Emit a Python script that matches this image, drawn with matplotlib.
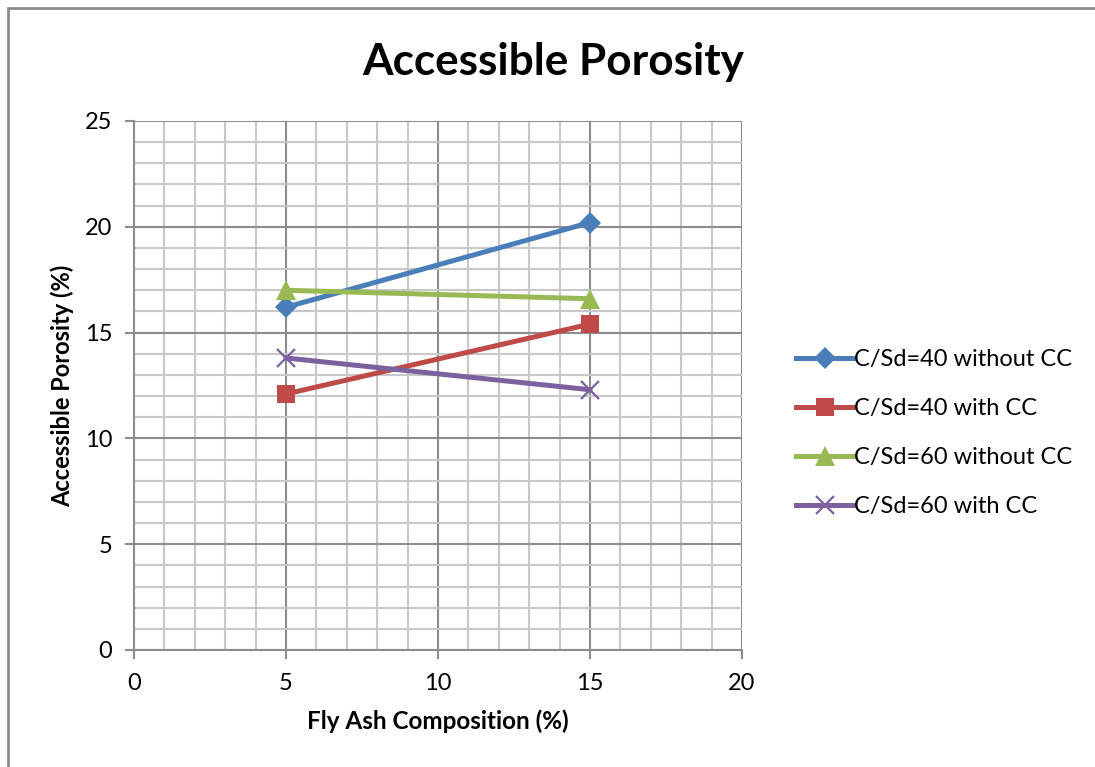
import matplotlib.pyplot as plt
from matplotlib.patches import Rectangle
from matplotlib.ticker import MultipleLocator

plt.rcParams['font.family'] = ['Lato', 'DejaVu Sans']

fly_ash = [5, 15]
cs40_without = [16.2, 20.2]
cs40_with = [12.1, 15.4]
cs60_without = [17.0, 16.6]
cs60_with = [13.8, 12.3]

labels = ["C/Sd=40 without CC", "C/Sd=40 with CC",
          "C/Sd=60 without CC", "C/Sd=60 with CC"]
series = [cs40_without, cs40_with, cs60_without, cs60_with]
styles = [
    {"color": "#4A7EBB", "marker": "D", "ms": 11},
    {"color": "#BE4B48", "marker": "s", "ms": 13},
    {"color": "#98B954", "marker": "^", "ms": 14},
    {"color": "#7D60A0", "marker": "x", "ms": 13},
]

fig = plt.figure(figsize=(10.95, 7.67), dpi=100)
ax = fig.add_axes([134 / 1095, 1 - 650 / 767, 608 / 1095, 529 / 767])

# outer chart frame (right/bottom edges fall outside the canvas)
fig.patches.append(Rectangle((8 / 1095, -0.1), 1.2, 1 - 8 / 767 + 0.1,
                             transform=fig.transFigure, fill=False,
                             edgecolor="#8c8c8c", linewidth=2))

for vals, lab, st in zip(series, labels, styles):
    ax.plot(fly_ash, vals, label=lab, color=st["color"], marker=st["marker"],
            markersize=st["ms"], markeredgewidth=1.6 if st["marker"] == "x" else 0,
            linewidth=3.6, zorder=5, clip_on=False)

ax.set_xlim(0, 20)
ax.set_ylim(0, 25)
ax.xaxis.set_major_locator(MultipleLocator(5))
ax.yaxis.set_major_locator(MultipleLocator(5))
ax.xaxis.set_minor_locator(MultipleLocator(1))
ax.yaxis.set_minor_locator(MultipleLocator(1))
ax.grid(True, which="minor", color="#c8c8c8", linewidth=1.5)
ax.grid(True, which="major", color="#8c8c8c", linewidth=1.5)
ax.set_axisbelow(True)

for s in ["top", "right"]:
    ax.spines[s].set_visible(False)
for s in ["left", "bottom"]:
    ax.spines[s].set_color("#8c8c8c")
    ax.spines[s].set_linewidth(1.5)

ax.tick_params(which="major", length=6.5, width=1.5, color="#8c8c8c",
               labelsize=17)
ax.tick_params(axis="x", which="major", pad=10)
ax.tick_params(axis="y", which="major", pad=9)
ax.tick_params(which="minor", length=0)

ax.set_xlabel("Fly Ash Composition (%)", fontsize=17.5, fontweight="bold", labelpad=11)
ax.set_ylabel("Accessible Porosity (%)", fontsize=17, fontweight="bold", labelpad=8)
fig.text(553 / 1095, 1 - 62 / 767, "Accessible Porosity", fontsize=31.8,
         fontweight="bold", ha="center", va="center")

ax.legend(loc="center left", bbox_to_anchor=(1.074, 0.41), frameon=False,
          fontsize=17, handlelength=2.4, handletextpad=0.05,
          labelspacing=1.18, borderaxespad=0)

fig.savefig("out.png", dpi=100)
